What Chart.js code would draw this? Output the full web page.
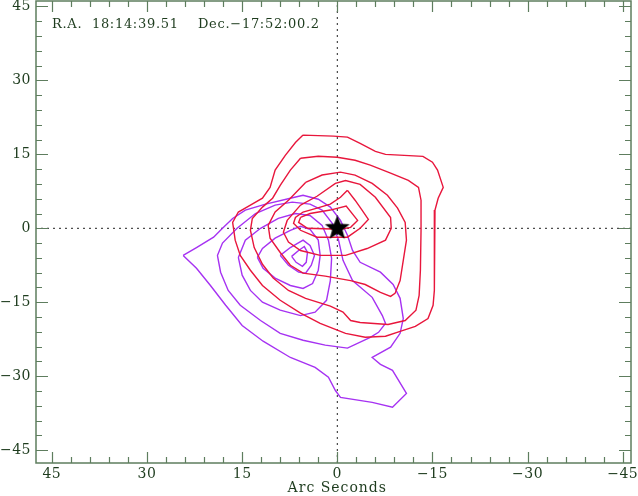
<!DOCTYPE html>
<html>
<head>
<meta charset="utf-8">
<script src="https://cdn.jsdelivr.net/npm/chart.js@4.4.1/dist/chart.umd.min.js"></script>
<style>
  body { margin: 0; background: #fff; }
  canvas { display: block; }
</style>
</head>
<body>
<canvas id="chart" width="638" height="496"></canvas>
<script>
// axis ranges (arc seconds), x runs from east to west so it is reversed
const xMin = -46.3, xMax = 47.5;
const yMin = -47.6, yMax = 46.1;
const majorTicks = [-45, -30, -15, 0, 15, 30, 45];
const minorStep = 3;
const header = "R.A.  18:14:39.51    Dec.\u221217:52:00.2";
const axisTitle = "Arc Seconds";

// red contours, outer to inner
const red1 = [[5.4,18.9],[0.6,18.7],[-1.6,18.5],[-3.6,17.2],[-6.0,15.6],[-7.6,15.0],[-13.5,14.6],[-15.0,13.4],[-15.8,11.8],[-16.7,8.3],[-15.9,6.1],[-15.4,3.7],[-15.3,-0.4],[-15.3,-12.6],[-15.1,-15.6],[-14.3,-18.3],[-12.3,-19.9],[-9.9,-20.9],[-7.6,-21.9],[-4.4,-22.1],[-1.3,-21.3],[2.7,-19.3],[5.8,-17.2],[9.0,-14.6],[11.8,-11.6],[13.7,-8.5],[15.3,-5.5],[16.1,-2.4],[16.5,1.2],[15.6,3.3],[13.7,4.7],[11.8,6.1],[10.6,8.3],[9.8,11.8],[8.2,14.8],[6.6,17.4]];
const red2 = [[5.8,14.2],[3.0,14.6],[0,14.4],[-2.8,13.8],[-5.2,12.8],[-8.4,11.2],[-11.2,9.7],[-12.8,8.3],[-13.2,5.7],[-13.2,-0.4],[-13.1,-8.5],[-12.9,-13.6],[-12.4,-16.6],[-10.7,-18.7],[-8.0,-19.5],[-3.6,-19.1],[-2.1,-18.7],[-0.9,-17.0],[1.1,-15.8],[5.0,-14.2],[7.7,-12.6],[10.1,-10.1],[11.8,-7.3],[13.1,-3.9],[13.7,-0.4],[13.4,2.0],[11.8,4.3],[10.2,6.1],[9.0,8.7],[7.4,11.8]];
const red3 = [[5.0,9.3],[2.4,10.8],[-0.5,11.4],[-2.8,10.8],[-5.5,9.1],[-7.9,6.7],[-9.5,4.1],[-10.7,1.2],[-10.9,-2.4],[-10.4,-6.5],[-9.9,-10.6],[-9.1,-13.2],[-8.4,-13.8],[-6.8,-13.0],[-4.4,-11.4],[-2.1,-10.6],[1.9,-9.7],[5.4,-9.1],[7.4,-7.5],[9.0,-4.9],[10.6,-2.0],[10.9,0.6],[9.8,3.3],[7.7,5.7]];
const red4 = [[5.8,4.7],[3.2,6.5],[0.3,9.1],[-1.3,9.7],[-3.6,8.9],[-6.0,6.3],[-8.4,2.2],[-8.5,0],[-7.6,-2.4],[-4.7,-4.1],[-1.3,-5.5],[2.7,-5.5],[5.8,-4.5],[7.7,-2.8],[8.5,-0.8],[7.9,1.6]];
const red5 = [[-1.6,7.7],[-2.8,5.7],[-3.9,3.7],[-4.9,1.8],[-3.6,0],[-1.6,-1.8],[3.2,-1.8],[5.8,-0.4],[6.9,1.0],[6.6,2.2],[5.4,3.3],[3.2,4.1],[1.1,4.9],[-0.5,6.3]];
const red6 = [[5.8,2.2],[4.3,3.0],[1.1,3.7],[-1.4,4.5],[-3.2,1.6],[-2.1,0.2],[-0.5,-0.2],[4.7,0],[6.1,1.2]];

// purple contours, outer to inner
const purple1 = [[24.3,-5.5],[22.2,-3.9],[19.5,-1.8],[18.1,0],[16.5,2.0],[14.5,3.7],[11.3,4.9],[7.4,6.1],[5.4,6.7],[3.0,5.9],[1.1,4.3],[-0.5,1.6],[-1.6,-1.4],[-2.4,-4.5],[-3.6,-6.9],[-6.8,-8.9],[-8.8,-11.4],[-9.9,-14.2],[-10.4,-18.3],[-9.9,-21.3],[-8.4,-24.1],[-5.5,-26.2],[-6.8,-27.6],[-8.7,-28.8],[-10.9,-33.5],[-8.7,-36.3],[-5.5,-35.3],[-0.5,-34.3],[0.3,-32.9],[1.4,-30.2],[3.5,-28.2],[7.4,-26.2],[11.7,-22.9],[15.0,-19.7],[17.6,-15.6],[20.0,-11.6],[22.2,-8.1]];
const purple2 = [[18.9,-5.5],[18.1,-3.0],[15.8,0],[12.9,3.0],[9.8,4.7],[7.1,5.3],[4.3,4.9],[2.4,3.7],[0.8,1.0],[-0.2,-2.4],[-0.9,-6.5],[-2.4,-10.6],[-5.5,-14.0],[-7.1,-17.7],[-7.6,-19.3],[-6.5,-21.1],[-5.2,-22.1],[-1.6,-24.3],[1.9,-23.7],[5.4,-22.7],[9.0,-21.3],[12.1,-18.7],[15.3,-15.6],[17.2,-12.6],[18.4,-8.9]];
const purple3 = [[15.6,-5.9],[14.5,-2.4],[12.1,0],[9.3,2.0],[6.6,3.0],[4.3,2.6],[2.4,0.6],[1.4,-2.4],[0.9,-6.1],[1.1,-10.6],[1.7,-14.6],[3.5,-17.0],[5.8,-17.7],[9.0,-16.6],[11.8,-15.0],[13.7,-12.6],[15.0,-9.5]];
const purple4 = [[12.6,-5.9],[11.8,-4.1],[9.8,-2.0],[7.4,-0.4],[5.8,0.4],[4.3,-0.2],[3.0,-2.4],[2.7,-5.5],[3.0,-8.5],[3.9,-11.2],[5.4,-12.2],[7.4,-11.6],[9.8,-10.1],[11.7,-8.1]];
const purple5 = [[9.0,-5.5],[7.4,-3.9],[5.4,-2.4],[4.3,-3.5],[3.6,-5.5],[4.1,-7.5],[5.0,-9.1],[6.1,-8.9],[7.7,-7.5]];
const purple6 = [[7.2,-5.7],[6.1,-4.5],[5.2,-3.7],[4.7,-4.9],[4.9,-6.9],[5.5,-7.7],[6.5,-6.9]];

const sourcePos = [[0, 0]];

const redColor = "#e8163c";
const purpleColor = "#a632f2";
const axisColor = "#5e7d5e";
const textColor = "#1e3c1e";
const fontFamily = "'DejaVu Serif'";

function closeRing(pts) {
  const ring = pts.map(p => ({ x: p[0], y: p[1] }));
  ring.push({ x: pts[0][0], y: pts[0][1] });
  return ring;
}

function contour(pts, color) {
  return {
    data: closeRing(pts),
    showLine: true,
    borderColor: color,
    borderWidth: 1.4,
    pointRadius: 0,
    tension: 0,
    fill: false
  };
}

// filled five point star for the source position
function makeStar(r) {
  const c = document.createElement("canvas");
  c.width = c.height = r * 2 + 2;
  const g = c.getContext("2d");
  g.beginPath();
  for (let i = 0; i < 10; i++) {
    const rad = i % 2 === 0 ? r : r * 0.42;
    const a = -Math.PI / 2 + i * Math.PI / 5;
    const px = r + 1 + rad * Math.cos(a);
    const py = r + 1 + rad * Math.sin(a);
    if (i === 0) g.moveTo(px, py); else g.lineTo(px, py);
  }
  g.closePath();
  g.fillStyle = "#000";
  g.fill();
  return c;
}

function fmt(v) {
  return v < 0 ? "\u2212" + Math.abs(v) : String(v);
}

// frame, inward major/minor ticks on all four sides, tick labels, title, header
const framePlugin = {
  id: "frame",
  afterDraw(chart) {
    const { ctx, chartArea: a, scales } = chart;
    ctx.save();
    ctx.strokeStyle = axisColor;
    ctx.lineWidth = 1.5;
    ctx.strokeRect(a.left, a.top, a.right - a.left, a.bottom - a.top);
    ctx.lineWidth = 1.2;
    ctx.beginPath();
    for (let v = -45; v <= 45; v += minorStep) {
      const major = majorTicks.includes(v);
      const xl = major ? 11 : 6;
      const yl = major ? 12 : 6;
      const px = Math.round(scales.x.getPixelForValue(v)) + 0.5;
      ctx.moveTo(px, a.bottom); ctx.lineTo(px, a.bottom - xl);
      ctx.moveTo(px, a.top); ctx.lineTo(px, a.top + xl);
      const py = Math.round(scales.y.getPixelForValue(v)) + 0.5;
      ctx.moveTo(a.left, py); ctx.lineTo(a.left + yl, py);
      ctx.moveTo(a.right, py); ctx.lineTo(a.right - yl, py);
    }
    ctx.stroke();

    ctx.fillStyle = textColor;
    ctx.font = "14px " + fontFamily;
    ctx.letterSpacing = "0.5px";
    ctx.textBaseline = "middle";
    ctx.textAlign = "center";
    majorTicks.forEach(v => {
      ctx.fillText(fmt(v), scales.x.getPixelForValue(v), a.bottom + 11);
    });
    ctx.textAlign = "right";
    majorTicks.forEach(v => {
      ctx.fillText(fmt(v), a.left - 5, scales.y.getPixelForValue(v));
    });
    ctx.textAlign = "center";
    ctx.letterSpacing = "1px";
    ctx.fillText(axisTitle, scales.x.getPixelForValue(0), a.bottom + 25);

    ctx.font = "13px " + fontFamily;
    ctx.letterSpacing = "0.7px";
    ctx.textAlign = "left";
    ctx.fillText(header, a.left + 16, a.top + 24);
    ctx.restore();
  }
};

const datasets = [
  {
    data: sourcePos.map(p => ({ x: p[0], y: p[1] })),
    pointStyle: makeStar(13),
    pointRadius: 13,
    showLine: false
  },
  contour(red1, redColor), contour(red2, redColor), contour(red3, redColor),
  contour(red4, redColor), contour(red5, redColor), contour(red6, redColor),
  contour(purple1, purpleColor), contour(purple2, purpleColor), contour(purple3, purpleColor),
  contour(purple4, purpleColor), contour(purple5, purpleColor), contour(purple6, purpleColor),
  // dotted cross through the reference position
  { data: [{ x: xMin, y: 0 }, { x: xMax, y: 0 }], showLine: true, borderColor: "#222", borderWidth: 1, borderDash: [2, 4], pointRadius: 0 },
  { data: [{ x: 0, y: yMin }, { x: 0, y: yMax }], showLine: true, borderColor: "#222", borderWidth: 1, borderDash: [2, 4], pointRadius: 0 }
];

new Chart(document.getElementById("chart"), {
  type: "scatter",
  data: { datasets },
  options: {
    responsive: false,
    animation: false,
    devicePixelRatio: 1,
    layout: { autoPadding: false, padding: { top: 1, right: 7, left: 0, bottom: 0 } },
    plugins: { legend: { display: false }, tooltip: { enabled: false } },
    scales: {
      x: {
        type: "linear",
        reverse: true,
        min: xMin,
        max: xMax,
        grid: { display: false, drawTicks: false },
        border: { display: false },
        ticks: { display: false },
        afterFit: s => { s.height = 33; }
      },
      y: {
        type: "linear",
        min: yMin,
        max: yMax,
        grid: { display: false, drawTicks: false },
        border: { display: false },
        ticks: { display: false },
        afterFit: s => { s.width = 36; }
      }
    }
  },
  plugins: [framePlugin]
});
</script>
</body>
</html>
